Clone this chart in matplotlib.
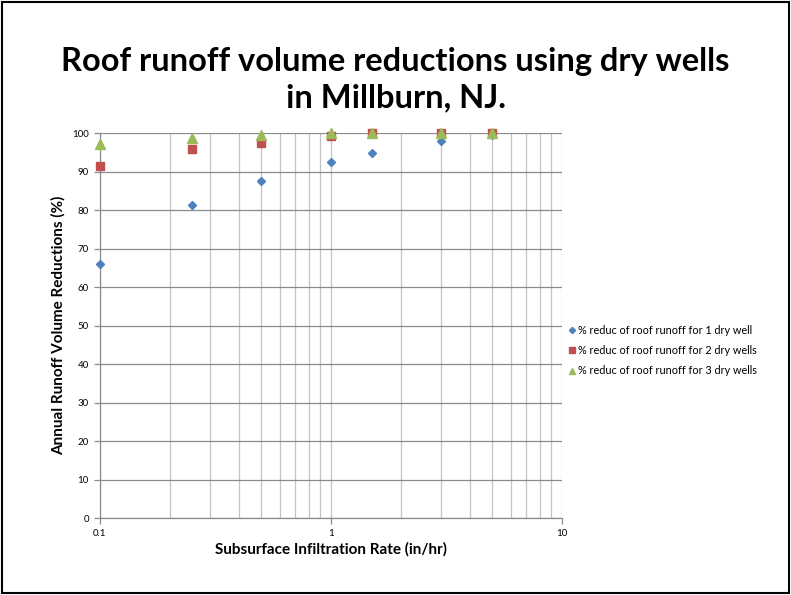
import numpy as np
import matplotlib
matplotlib.use("Agg")
import matplotlib.pyplot as plt
from matplotlib.patches import Rectangle
from matplotlib.ticker import LogLocator, FixedLocator, FixedFormatter, NullFormatter

plt.rcParams['font.family'] = ['Lato', 'DejaVu Sans']

# infiltration rates (in/hr)
rates = [0.1, 0.25, 0.5, 1, 1.5, 3, 5]
# % reduction of roof runoff
one_well = [66.1, 81.4, 87.7, 92.5, 95.0, 97.9, 99.6]
two_wells = [91.5, 95.9, 97.6, 99.3, 100, 100, 100]
three_wells = [97.2, 98.9, 99.6, 100, 100, 100, 100]

labels = ['% reduc of roof runoff for 1 dry well',
          '% reduc of roof runoff for 2 dry wells',
          '% reduc of roof runoff for 3 dry wells']

fig = plt.figure(figsize=(7.91, 5.95), dpi=100)
ax = fig.add_axes([0.1264, 0.1294, 0.5841, 0.6466])

ax.plot(rates, one_well, linestyle='none', marker='D', markersize=4.5,
        color='#4F81BD', label=labels[0], zorder=3, clip_on=False)
ax.plot(rates, two_wells, linestyle='none', marker='s', markersize=6,
        color='#C0504D', label=labels[1], zorder=3, clip_on=False)
ax.plot(rates, three_wells, linestyle='none', marker='^', markersize=6.5,
        color='#9BBB59', label=labels[2], zorder=3, clip_on=False)

ax.set_xscale('log')
ax.set_xlim(0.1, 10)
ax.set_ylim(0, 100)
ax.xaxis.set_major_locator(FixedLocator([0.1, 1, 10]))
ax.xaxis.set_major_formatter(FixedFormatter(['0.1', '1', '10']))
ax.xaxis.set_minor_locator(LogLocator(base=10, subs=np.arange(2, 10)))
ax.xaxis.set_minor_formatter(NullFormatter())
ax.set_yticks(np.arange(0, 101, 10))

ax.grid(True, axis='y', which='major', color='#8c8c8c', linewidth=0.9)
ax.grid(True, axis='x', which='both', color='#c4c4c4', linewidth=0.9)
ax.set_axisbelow(True)

for s in ['top', 'right']:
    ax.spines[s].set_visible(False)
for s in ['left', 'bottom']:
    ax.spines[s].set_color('#8c8c8c')
    ax.spines[s].set_linewidth(0.9)

ax.tick_params(axis='both', which='major', labelsize=7, length=4,
               color='#8c8c8c', width=0.9, pad=4)
ax.tick_params(axis='x', which='minor', length=0)

ax.set_xlabel('Subsurface Infiltration Rate (in/hr)', fontsize=11,
              fontweight='bold', labelpad=3)
ax.set_ylabel('Annual Runoff Volume Reductions (%)', fontsize=11,
              fontweight='bold', labelpad=5)

fig.text(0.5, 0.866, 'Roof runoff volume reductions using dry wells\nin Millburn, NJ.',
         ha='center', va='center', fontsize=23.5, fontweight='bold',
         linespacing=1.3)

ax.legend(loc='center left', bbox_to_anchor=(1.0, 0.435), frameon=False,
          fontsize=7.8, handletextpad=0.1, handlelength=1.0, borderaxespad=0.0,
          labelspacing=0.85, markerscale=0.7)

fig.patches.append(Rectangle((0.002, 0.003), 0.996, 0.994, transform=fig.transFigure,
                             fill=False, edgecolor='black', linewidth=1.5))

fig.savefig('out.png', dpi=100)
